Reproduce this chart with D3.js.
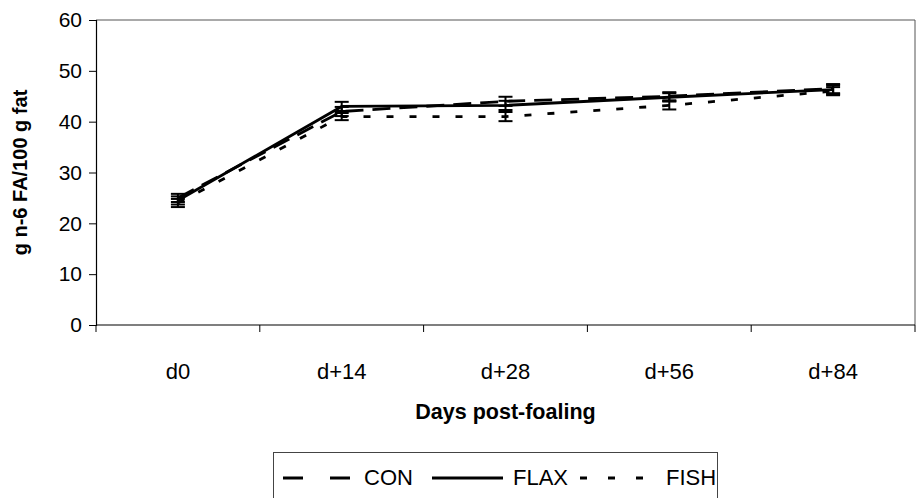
<!DOCTYPE html>
<html>
<head>
<meta charset="utf-8">
<script src="https://cdn.jsdelivr.net/npm/d3@7"></script>
<style>
  body { margin: 0; background: #fff; }
  svg { display: block; font-family: "Liberation Sans", Arial, sans-serif; }
</style>
</head>
<body>
<svg id="chart" width="916" height="498"></svg>
<script>
// Sampling days after foaling
const days = ["d0", "d+14", "d+28", "d+56", "d+84"];

// n-6 fatty acids (g/100 g fat) by diet
const conValues  = [25.0, 42.0, 44.0, 45.0, 46.5];
const flaxValues = [24.5, 43.0, 43.2, 44.8, 46.3];
const fishValues = [24.0, 41.0, 41.0, 43.2, 46.0];

// Standard errors
const conErr  = [0.8, 0.9, 0.9, 0.8, 0.9];
const flaxErr = [0.8, 0.9, 0.9, 0.8, 0.9];
const fishErr = [0.8, 0.7, 0.9, 0.8, 0.8];

const yTicks = [0, 10, 20, 30, 40, 50, 60];

const series = [
  { name: "CON",  values: conValues,  err: conErr,  dash: "18,9" },
  { name: "FLAX", values: flaxValues, err: flaxErr, dash: null },
  { name: "FISH", values: fishValues, err: fishErr, dash: "7,16" }
];

const svg = d3.select("#chart");
const plotLeft = 96, plotRight = 915, plotTop = 20, plotBottom = 325;

const x = d3.scaleBand().domain(days).range([plotLeft, plotRight]);
const y = d3.scaleLinear().domain([0, 60]).range([plotBottom, plotTop]);

// Frame: top and right edges
svg.append("line").attr("x1", plotLeft).attr("x2", plotRight).attr("y1", plotTop).attr("y2", plotTop)
  .attr("stroke", "#555").attr("stroke-width", 1);
svg.append("line").attr("x1", plotRight).attr("x2", plotRight).attr("y1", plotTop).attr("y2", plotBottom)
  .attr("stroke", "#555").attr("stroke-width", 1);

// Y axis
const yAxis = svg.append("g").attr("transform", `translate(${plotLeft},0)`)
  .call(d3.axisLeft(y).tickValues(yTicks).tickSize(7).tickPadding(7));
yAxis.select(".domain").attr("stroke", "#000").attr("stroke-width", 1.2);
yAxis.selectAll(".tick line").attr("stroke", "#000");
yAxis.selectAll("text").attr("font-size", 21).attr("fill", "#000")
  .attr("font-family", "'Liberation Sans', Arial, sans-serif");

// X axis with ticks on category boundaries
const xAxisG = svg.append("g").attr("transform", `translate(0,${plotBottom})`);
xAxisG.append("line").attr("x1", plotLeft).attr("x2", plotRight).attr("stroke", "#000").attr("stroke-width", 1.2);
const bounds = days.map(d => x(d)).concat([x(days[days.length - 1]) + x.bandwidth()]);
xAxisG.selectAll("line.tk").data(bounds).enter().append("line").attr("class", "tk")
  .attr("x1", d => d).attr("x2", d => d).attr("y1", 0).attr("y2", 7)
  .attr("stroke", "#000");
xAxisG.selectAll("text").data(days).enter().append("text")
  .attr("x", d => x(d) + x.bandwidth() / 2).attr("y", 54)
  .attr("text-anchor", "middle").attr("font-size", 22).text(d => d);

// Axis titles
svg.append("text").attr("x", (plotLeft + plotRight) / 2).attr("y", 419)
  .attr("text-anchor", "middle").attr("font-size", 21.5).attr("font-weight", "bold")
  .text("Days post-foaling");
svg.append("text").attr("transform", `translate(27,${(plotTop + plotBottom) / 2}) rotate(-90)`)
  .attr("text-anchor", "middle").attr("font-size", 20).attr("font-weight", "bold")
  .text("g n-6 FA/100 g fat");

const cx = d => x(d) + x.bandwidth() / 2;

// Lines
const line = d3.line().x((v, i) => cx(days[i])).y(v => y(v));
series.forEach(s => {
  svg.append("path").datum(s.values).attr("d", line)
    .attr("fill", "none").attr("stroke", "#000").attr("stroke-width", 2.8)
    .attr("stroke-dasharray", s.dash);
});

// Error bars
const capHalf = 7;
series.forEach(s => {
  const g = svg.append("g");
  s.values.forEach((v, i) => {
    const px = cx(days[i]);
    const lo = y(v - s.err[i]), hi = y(v + s.err[i]);
    g.append("line").attr("x1", px).attr("x2", px).attr("y1", lo).attr("y2", hi)
      .attr("stroke", "#000").attr("stroke-width", 2);
    [lo, hi].forEach(yy => g.append("line")
      .attr("x1", px - capHalf).attr("x2", px + capHalf).attr("y1", yy).attr("y2", yy)
      .attr("stroke", "#000").attr("stroke-width", 2));
  });
});

// Legend
const lg = svg.append("g");
lg.append("rect").attr("x", 273.5).attr("y", 452.5).attr("width", 444).attr("height", 60)
  .attr("fill", "#fff").attr("stroke", "#444").attr("stroke-width", 1);
const legendItems = [
  { s: series[0], x1: 283, x2: 354, tx: 364 },
  { s: series[1], x1: 432, x2: 503, tx: 513 },
  { s: series[2], x1: 580, x2: 660, tx: 666 }
];
legendItems.forEach(it => {
  lg.append("line").attr("x1", it.x1).attr("x2", it.x2).attr("y1", 478).attr("y2", 478)
    .attr("stroke", "#000").attr("stroke-width", 2.8)
    .attr("stroke-dasharray", it.s.name === "CON" ? "20,27" : it.s.name === "FISH" ? "7,21" : null);
  lg.append("text").attr("x", it.tx).attr("y", 485).attr("font-size", 22).text(it.s.name);
});
</script>
</body>
</html>
